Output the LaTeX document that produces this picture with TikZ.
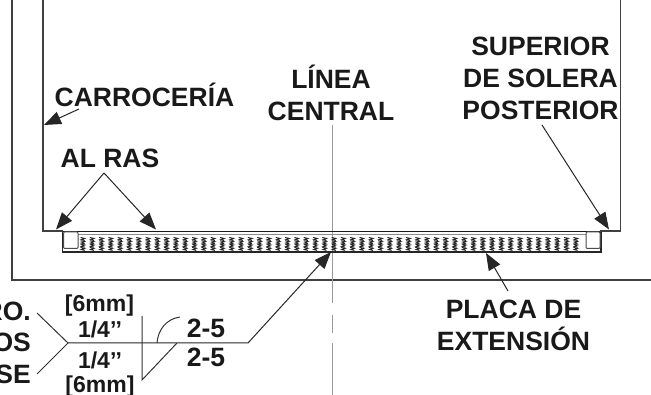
\documentclass[tikz,border=0pt]{standalone}
\usepackage{fontspec}
\setmainfont{Liberation Sans}
\usetikzlibrary{arrows.meta}
\tikzset{
  x=1pt,y=-1pt,
  lbl/.style={font=\fontsize{26.5}{32}\selectfont\bfseries,inner sep=0pt,align=center,text=black!90},
  small/.style={font=\fontsize{23}{26}\selectfont\bfseries},
  lead/.style={line width=1pt,draw=black!85,-{Triangle[length=17pt,width=13pt]}},
  wline/.style={line width=1pt,draw=black!80},
  struct/.style={line width=1.1pt,draw=black!75},
  center/.style={line width=1pt,draw=black!40},
}
\begin{document}
\begin{tikzpicture}
\useasboundingbox (0,0) rectangle (651,395);
\clip (0,0) rectangle (651,395);
% structure
\draw[struct] (12,0) -- (12,280) -- (651,280);
\draw[struct] (43,0) -- (43,231) -- (63,231);
\draw[struct] (620.5,0) -- (620.5,231) -- (600,231);
% centre line
\draw[center] (332,125) -- (332,303);
\draw[center] (332,315) -- (332,333);
\draw[center] (332,343) -- (332,395);
% plate
\foreach \c in {0,...,53}{
  \pgfmathsetmacro{\xx}{80.5+9.3*\c}
  \foreach \r in {0,1,2,3}{
    \pgfmathsetmacro{\yy}{237.5+3.3*\r}
    \draw[line width=.95pt,black!85] (\xx,\yy) -- (\xx+4.2,\yy+.9) -- (\xx+.8,\yy+2.2) -- (\xx+4.2,\yy+3);
  }
}
\draw[line width=1.8pt,black!90] (63,231.5) -- (600,231.5);
\draw[line width=1pt,black!45] (78,235) -- (586,235);
\draw[line width=1.4pt,black!85] (62.5,232) -- (62.5,252) -- (601,252) -- (601,232);
\draw[line width=1pt,black!70,fill=white,rounded corners=1pt] (63.5,232) -- (78,232) -- (78,248.5) -- (63.5,248.5) -- cycle;
\draw[line width=1pt,black!70,fill=white,rounded corners=1pt] (586,232) -- (600,232) -- (600,248.5) -- (586,248.5) -- cycle;
% labels
\node[lbl] (carr) at (144.5,95) {CARROCERÍA};
\node[lbl] (ras) at (110,158) {AL RAS};
\node[lbl] (linea) at (331,93) {LÍNEA\\CENTRAL};
\node[lbl] (sup) at (540.5,78.5) {SUPERIOR\\DE SOLERA\\POSTERIOR};
\node[lbl] (placa) at (513.5,325) {PLACA DE\\EXTENSIÓN};
\node[lbl,anchor=east] (t1) at (31,311) {RO.};
\node[lbl,anchor=east] (t2) at (31,342.5) {OS};
\node[lbl,anchor=east] (t3) at (31,374) {SE};
\node[lbl,small] (w1) at (99.5,305.5) {[6mm]};
\node[lbl,small] (w2) at (100,329) {1/4’’};
\node[lbl,small] (w3) at (100,360) {1/4’’};
\node[lbl,small] (w4) at (100,387) {[6mm]};
\node[lbl] (p1) at (206,328) {2-5};
\node[lbl] (p2) at (206,357) {2-5};
% anchors
\coordinate (carrt) at (79,109);
\coordinate (bodyedge) at (44,125);
\coordinate (rasa) at (104,173);
\coordinate (rasl) at (56,229.5);
\coordinate (rasr) at (156,229.5);
\coordinate (supa) at (542,125);
\coordinate (supt) at (609,229.5);
\coordinate (plt) at (486,253);
\coordinate (plb) at (508,291);
\coordinate (weldt) at (331,252);
\coordinate (bend) at (248,343);
\coordinate (fork) at (68,343);
\coordinate (fa) at (37,313);
\coordinate (fb) at (37,374);
\coordinate (st) at (142,316);
\coordinate (sb) at (142,380);
\coordinate (sc) at (177,343);
% leaders
\draw[lead] (carrt) -- (bodyedge);
\draw[lead] (rasa) -- (rasl);
\draw[lead] (rasa) -- (rasr);
\draw[lead] (supa) -- (supt);
\draw[lead] (plb) -- (plt);
\draw[lead] (fork) -- (bend) -- (weldt);
\draw[wline] (fa) -- (fork) -- (fb);
\draw[wline] (st) -- (sb) -- (sc);
\draw[wline] (157,343) .. controls (158,330) and (166,319) .. (180,317);
\end{tikzpicture}
\end{document}
